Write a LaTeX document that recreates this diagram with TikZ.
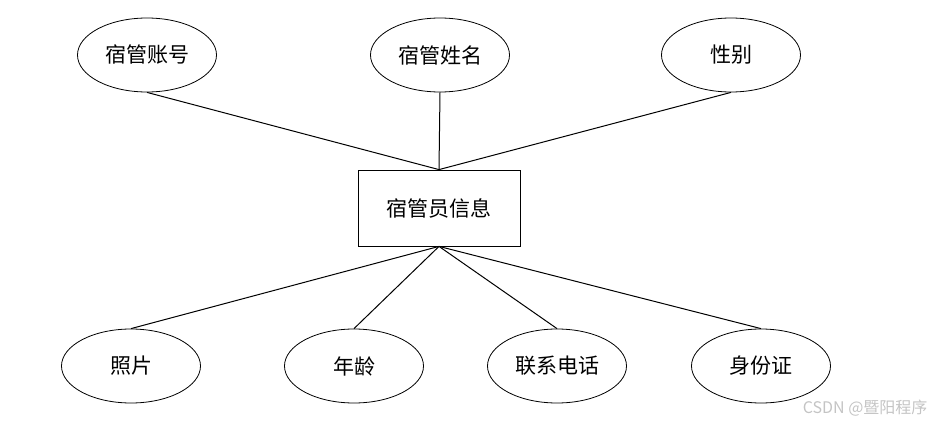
\documentclass[tikz,border=0pt]{standalone}
\usepackage{fontspec}
\usepackage{tikz}
\usetikzlibrary{positioning, shapes.geometric}
\newfontfamily\cjk{Noto Sans CJK SC}
\definecolor{markgray}{HTML}{C4C4C4}

\tikzset{
  attr/.style={draw, ellipse, line width=0.8pt, inner sep=0pt, minimum width=139pt, minimum height=74pt,
               font=\cjk\fontsize{21}{24}\selectfont},
  entity/.style={draw, rectangle, line width=0.8pt, inner sep=0pt, minimum width=162pt, minimum height=76pt,
               font=\cjk\fontsize{21}{24}\selectfont},
  link/.style={draw, line width=1pt}
}

\begin{document}
\begin{tikzpicture}[x=1pt, y=-1pt]
    \useasboundingbox (0,0) rectangle (935,423);
    % entity
    \node[entity] (info) at (439,208) {宿管员信息};
    % attributes above
    \node[attr] (account) at (147,55) {宿管账号};
    \node[attr] (name) at (440,55) {宿管姓名};
    \node[attr] (gender) at (731,55) {性别};
    % attributes below
    \node[attr] (photo) at (131,366) {照片};
    \node[attr] (age) at (354,366) {年龄};
    \node[attr] (phone) at (557,366) {联系电话};
    \node[attr] (idcard) at (761,366) {身份证};
    % links
    \foreach \a in {account, name, gender}
      \draw[link] (\a.south) -- (info.north);
    \foreach \a in {photo, age, phone, idcard}
      \draw[link] (info.south) -- (\a.north);
    \node[font=\cjk\fontsize{16}{18}\selectfont, text=markgray, anchor=east] (mark) at (931,408) {CSDN @暨阳程序};
\end{tikzpicture}
\end{document}
